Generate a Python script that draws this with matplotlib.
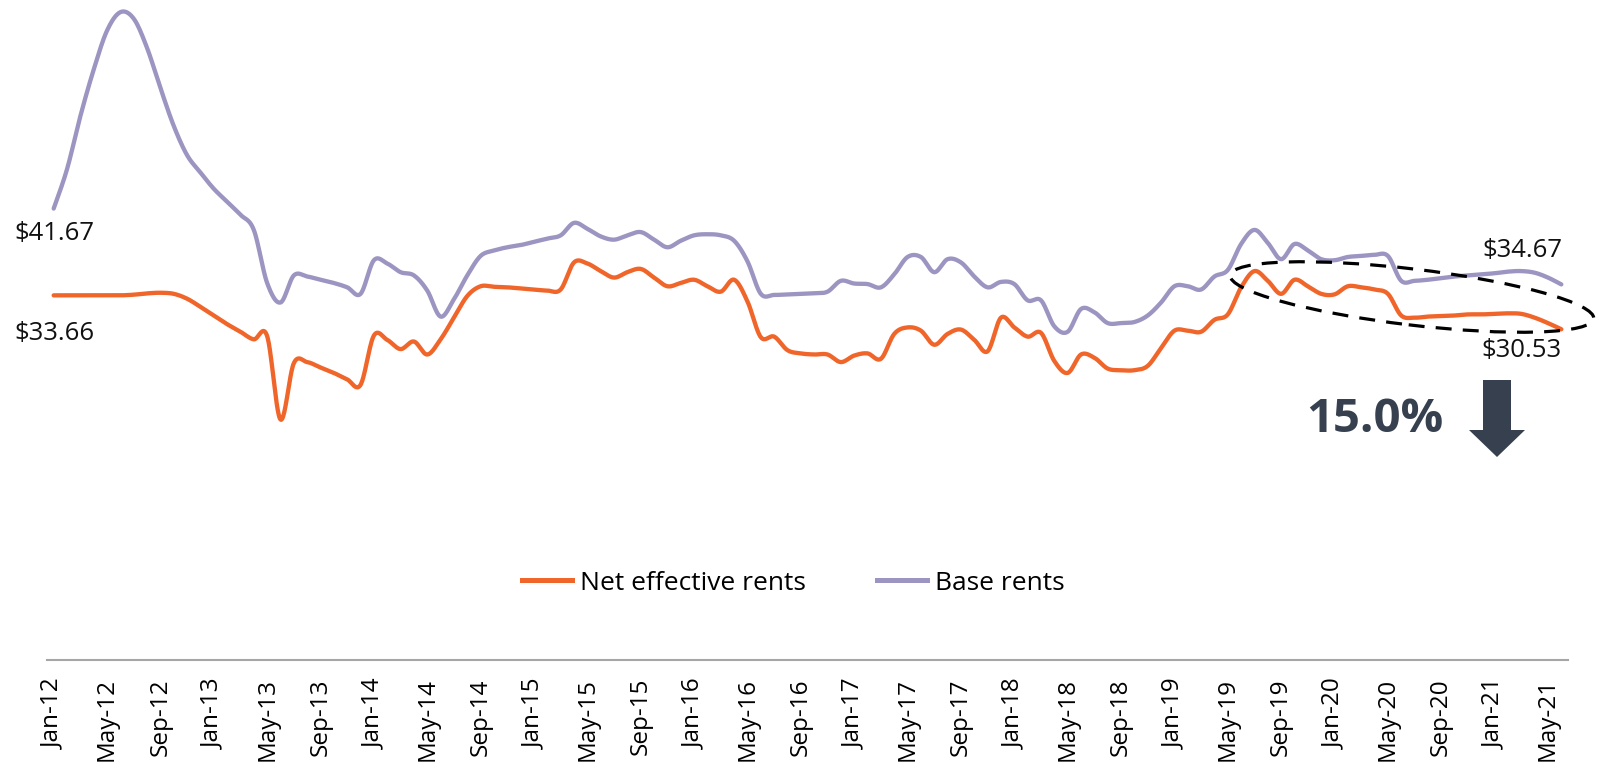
import numpy as np
import pandas as pd
import matplotlib
matplotlib.use("Agg")
import matplotlib.pyplot as plt
from matplotlib.patches import Ellipse, Polygon
from matplotlib.lines import Line2D

plt.rcParams['font.family'] = ['Open Sans', 'DejaVu Sans']

# ---------------- data ----------------
months = pd.date_range("2012-01-01", "2021-06-01", freq="MS").strftime("%b-%y").tolist()

base_rents = [
    41.67, 45.3, 50.2, 54.5, 58.1, 59.8, 59.2, 56.5, 52.8, 49.3,
    46.6, 45.0, 43.5, 42.3, 41.1, 39.7, 34.8, 33.0, 35.5, 35.4,
    35.1, 34.8, 34.4, 33.8, 36.9, 36.6, 35.8, 35.5, 34.1, 31.7,
    33.3, 35.5, 37.3, 37.8, 38.1, 38.3, 38.6, 38.9, 39.2, 40.35,
    39.8, 39.1, 38.8, 39.2, 39.5, 38.8, 38.1, 38.7, 39.2, 39.3,
    39.2, 38.7, 36.8, 33.8, 33.7, 33.75, 33.8, 33.85, 34.0, 35.0,
    34.75, 34.7, 34.4, 35.6, 37.2, 37.2, 35.8, 37.0, 36.7, 35.4,
    34.4, 34.9, 34.7, 33.2, 33.2, 30.8, 30.3, 32.4, 32.1, 31.1,
    31.1, 31.2, 31.8, 33.0, 34.5, 34.5, 34.2, 35.4, 36.0, 38.4,
    39.7, 38.5, 37.0, 38.4, 37.8, 37.0, 36.9, 37.2, 37.3, 37.4,
    37.3, 35.0, 35.0, 35.1, 35.25, 35.4, 35.5, 35.6, 35.7, 35.85,
    35.9, 35.75, 35.3, 34.67,
]

net_effective_rents = [
    33.66, 33.66, 33.66, 33.66, 33.66, 33.66, 33.72, 33.84, 33.9, 33.8,
    33.35, 32.6, 31.8, 31.0, 30.3, 29.6, 29.9, 22.2, 27.4, 27.5,
    27.0, 26.5, 25.9, 25.4, 29.95, 29.55, 28.7, 29.4, 28.2, 29.6,
    31.6, 33.6, 34.5, 34.45, 34.4, 34.3, 34.2, 34.1, 34.2, 36.7,
    36.6, 35.9, 35.3, 35.8, 36.1, 35.3, 34.5, 34.8, 35.1, 34.5,
    34.0, 35.1, 33.1, 29.8, 29.85, 28.6, 28.3, 28.2, 28.2, 27.5,
    28.1, 28.3, 27.8, 30.1, 30.7, 30.4, 29.1, 30.1, 30.5, 29.55,
    28.5, 31.6, 30.7, 29.85, 30.2, 27.6, 26.5, 28.2, 27.9, 26.9,
    26.75, 26.75, 27.15, 28.8, 30.4, 30.4, 30.3, 31.4, 31.9, 34.4,
    35.9, 35.0, 33.8, 35.1, 34.5, 33.8, 33.75, 34.5, 34.4, 34.2,
    33.8, 31.8, 31.6, 31.7, 31.75, 31.8, 31.9, 31.9, 31.95, 32.0,
    31.95, 31.6, 31.1, 30.53,
]

series_names = ["Net effective rents", "Base rents"]
change_label = "15.0%"

ORANGE = "#F0652A"
PURPLE = "#9C95C1"
DARK = "#36404F"


def smooth(y, n=24):
    """Excel-style smoothed line (cubic Bezier / Catmull-Rom)."""
    x = np.arange(len(y), dtype=float)
    pts = np.column_stack([x, np.asarray(y, dtype=float)])
    P = np.vstack([pts[0], pts, pts[-1]])
    out = []
    t = np.linspace(0, 1, n, endpoint=False)[:, None]
    for i in range(len(pts) - 1):
        p0, p1, p2, p3 = P[i], P[i + 1], P[i + 2], P[i + 3]
        c1 = p1 + (p2 - p0) / 6.0
        c2 = p2 - (p3 - p1) / 6.0
        B = ((1 - t) ** 3) * p1 + 3 * ((1 - t) ** 2) * t * c1 + 3 * (1 - t) * t ** 2 * c2 + t ** 3 * p2
        out.append(B)
    out.append(pts[-1:])
    arr = np.vstack(out)
    return arr[:, 0], arr[:, 1]


W, H = 1603, 768
fig = plt.figure(figsize=(W / 100, H / 100), dpi=100)
ax = fig.add_axes([47 / W, 108 / H, 1521 / W, 650 / H])

xs, ys = smooth(net_effective_rents)
ax.plot(xs, ys, color=ORANGE, lw=3.1, solid_capstyle="round", clip_on=False, zorder=3)
xs, ys = smooth(base_rents)
ax.plot(xs, ys, color=PURPLE, lw=3.1, solid_capstyle="round", clip_on=False, zorder=3)

n = len(months)
ax.set_xlim(-0.5, n - 0.5)
ax.set_ylim(0, 60)
ax.set_xticks(range(0, n, 4))
ax.set_xticklabels(months[::4], rotation=90, fontsize=17.5)
ax.tick_params(axis="x", length=0, pad=13)
ax.set_yticks([])
for s in ["top", "right", "left"]:
    ax.spines[s].set_visible(False)
ax.spines["bottom"].set_color("#A6A6A6")
ax.spines["bottom"].set_linewidth(1.5)

# value labels
lab_kw = dict(textcoords="offset pixels", ha="center", va="center", fontsize=18.5, color="#111111")
ax.annotate(f"${base_rents[0]:.2f}", xy=(0, base_rents[0]), xytext=(1, -25), **lab_kw)
ax.annotate(f"${net_effective_rents[0]:.2f}", xy=(0, net_effective_rents[0]), xytext=(1, -38), **lab_kw)
ax.annotate(f"${base_rents[-1]:.2f}", xy=(n - 1, base_rents[-1]), xytext=(-39, 34), **lab_kw)
ax.annotate(f"${net_effective_rents[-1]:.2f}", xy=(n - 1, net_effective_rents[-1]), xytext=(-40, -21), **lab_kw)

# legend
handles = [Line2D([], [], color=ORANGE, lw=3.6), Line2D([], [], color=PURPLE, lw=3.6)]
fig.legend(handles, series_names, loc="center", bbox_to_anchor=(793 / W, 1 - 583 / H),
           ncol=2, frameon=False, fontsize=19, handlelength=1.9, handletextpad=0.3,
           columnspacing=2.7)

# dashed ellipse (figure pixel coordinates)
ell = Ellipse((1412, H - 297), width=366, height=56, angle=-6.8, fill=False,
              edgecolor="black", lw=2.3, linestyle=(0, (5, 3.5)), transform=None, zorder=5)
fig.patches.append(ell)

# percentage change and arrow
fig.text(1375 / W, 1 - 420 / H, change_label, fontsize=34, fontweight="bold", color=DARK,
         ha="center", va="center")
arrow_px = [(1483, 380), (1511, 380), (1511, 430), (1525, 430), (1497, 457), (1469, 430), (1483, 430)]
arrow = Polygon([(x / W, 1 - y / H) for x, y in arrow_px], closed=True, facecolor=DARK,
                edgecolor="none", transform=fig.transFigure)
fig.patches.append(arrow)

fig.savefig("out.png", dpi=100)
